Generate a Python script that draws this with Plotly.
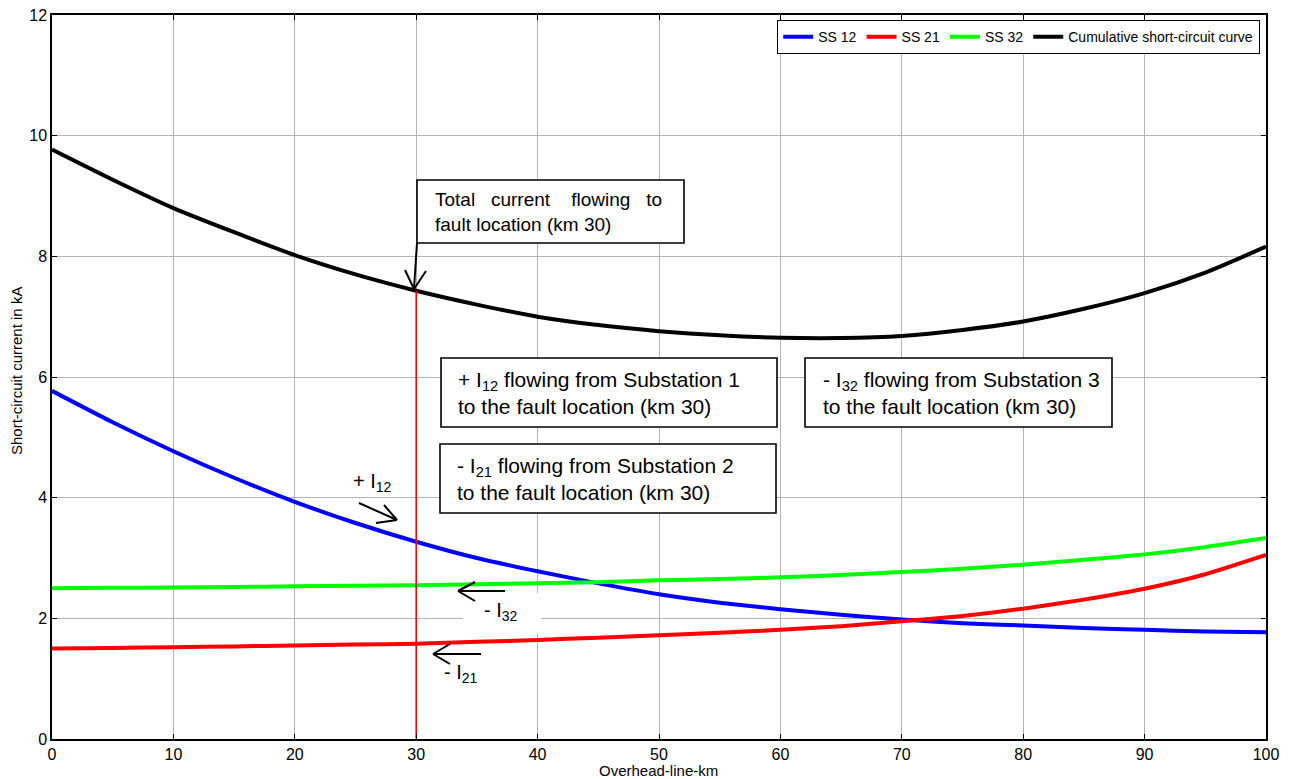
import plotly.graph_objects as go

# ---- data: short-circuit current along the overhead line ----
km = [0, 5, 10, 15, 20, 25, 30, 35, 40, 45, 50, 55, 60, 65, 70, 75, 80, 85, 90, 95, 100]

ss12 = [5.77, 5.25, 4.77, 4.33, 3.93, 3.58, 3.27, 3.00, 2.78, 2.58, 2.40, 2.26, 2.15,
        2.06, 1.98, 1.92, 1.88, 1.84, 1.81, 1.78, 1.77]
ss21 = [1.50, 1.51, 1.52, 1.535, 1.55, 1.565, 1.58, 1.61, 1.64, 1.68, 1.72, 1.76, 1.81,
        1.87, 1.95, 2.04, 2.16, 2.31, 2.49, 2.73, 3.05]
ss32 = [2.50, 2.505, 2.51, 2.52, 2.53, 2.54, 2.55, 2.565, 2.58, 2.60, 2.63, 2.65, 2.68,
        2.72, 2.77, 2.82, 2.89, 2.97, 3.06, 3.18, 3.33]
cumulative = [9.77, 9.27, 8.80, 8.40, 8.02, 7.70, 7.43, 7.20, 7.00, 6.86, 6.76, 6.69,
              6.65, 6.645, 6.68, 6.78, 6.92, 7.13, 7.39, 7.73, 8.16]

fault_km = 30
x_ticks = list(range(0, 101, 10))
y_ticks = list(range(0, 13, 2))

# ---- figure geometry (pixels) ----
FIG_W, FIG_H = 1294, 779
M_L, M_R, M_T, M_B = 52, 28, 15, 40
PW = FIG_W - M_L - M_R
PH = FIG_H - M_T - M_B
X_MAX, Y_MAX = 100, 12


def to_data(xp, yp):
    """Convert a pixel position on the page to axis units."""
    return (xp - M_L) / PW * X_MAX, (FIG_H - M_B - yp) / PH * Y_MAX


def to_paper(xp, yp):
    return (xp - M_L) / PW, (FIG_H - M_B - yp) / PH


FONT = "Liberation Sans, Arial, sans-serif"

fig = go.Figure()

series = [("SS 12", ss12, "#0000ff"), ("SS 21", ss21, "#ff0000"),
          ("SS 32", ss32, "#00ff00"), ("Cumulative short-circuit curve", cumulative, "#000000")]
for name, vals, col in series:
    fig.add_trace(go.Scatter(x=km, y=vals, name=name, mode="lines",
                             line=dict(color=col, width=4, shape="spline", smoothing=0.6)))

# vertical marker at the fault location, up to the cumulative curve
fault_level = cumulative[km.index(fault_km)]
fig.add_trace(go.Scatter(x=[fault_km, fault_km], y=[0, fault_level], mode="lines",
                         line=dict(color="#ff0000", width=1.6), showlegend=False,
                         hoverinfo="skip"))

shapes = []
annotations = []


def box(x0, y0, x1, y1):
    a, b = to_data(x0, y0)
    c, d = to_data(x1, y1)
    shapes.append(dict(type="rect", xref="x", yref="y", x0=a, y0=b, x1=c, y1=d,
                       line=dict(color="black", width=1.6), fillcolor="white", layer="above"))


def label(xp, yp, text, size, xanchor="left"):
    x, y = to_data(xp, yp)
    annotations.append(dict(x=x, y=y, xref="x", yref="y", text=text, showarrow=False,
                            xanchor=xanchor, yanchor="middle", align="left",
                            font=dict(family=FONT, size=size, color="black")))


def arrow(tx, ty, hx, hy, wing1, wing2):
    """Shaft from tail to head with an open V head (pixel coordinates)."""
    for (ax, ay), (bx, by) in [((tx, ty), (hx, hy)), (wing1, (hx, hy)), (wing2, (hx, hy))]:
        a, b = to_data(ax, ay)
        c, d = to_data(bx, by)
        shapes.append(dict(type="line", xref="x", yref="y", x0=a, y0=b, x1=c, y1=d,
                           line=dict(color="black", width=2), layer="above"))


# white patch behind the "- I32" label
pa, pb = to_data(463, 593)
pc, pd = to_data(541, 633)
shapes.append(dict(type="rect", xref="x", yref="y", x0=pa, y0=pb, x1=pc, y1=pd,
                   line=dict(width=0), fillcolor="white", layer="between"))

# text boxes
box(417, 180, 684, 243)
label(433, 212, "Total&nbsp;&nbsp;&nbsp;current&nbsp;&nbsp;&nbsp;&nbsp;flowing&nbsp;&nbsp;&nbsp;to<br>"
      "fault location (km 30)", 19)
box(441, 358, 777, 427)
label(456, 393, "+ I<sub>12</sub> flowing from Substation 1<br>to the fault location (km 30)", 21)
box(440, 444, 776, 513)
label(455, 479, "- I<sub>21</sub> flowing from Substation 2<br>to the fault location (km 30)", 21)
box(805, 358, 1112, 427)
label(821, 393, "- I<sub>32</sub> flowing from Substation 3<br>to the fault location (km 30)", 21)

# arrows and short labels
arrow(417, 243, 414, 289, (405, 270), (426, 271))
arrow(359, 503, 397, 520, (384, 505), (376, 523))
label(372, 482, "+ I<sub>12</sub>", 20, xanchor="center")
arrow(505, 591, 458, 591, (475, 582), (475, 601))
label(501, 611, "- I<sub>32</sub>", 20, xanchor="center")
arrow(481, 654, 433, 654, (450, 644), (450, 664))
label(461, 673, "- I<sub>21</sub>", 20, xanchor="center")

# axis titles
tx, ty = to_paper(658, 771)
annotations.append(dict(x=tx, y=ty, xref="paper", yref="paper", text="Overhead-line-km",
                        showarrow=False, xanchor="center", yanchor="middle",
                        font=dict(family=FONT, size=15, color="black")))
tx, ty = to_paper(16, 371)
annotations.append(dict(x=tx, y=ty, xref="paper", yref="paper",
                        text="Short-circuit current in kA", textangle=-90,
                        showarrow=False, xanchor="center", yanchor="middle",
                        font=dict(family=FONT, size=15, color="black")))

axis_common = dict(showline=True, linecolor="black", linewidth=1.5, mirror="ticks",
                   ticks="inside", ticklen=5, tickcolor="black", tickwidth=1,
                   showgrid=True, gridcolor="#b4b4b4", gridwidth=1, zeroline=False,
                   automargin=False,
                   tickfont=dict(family=FONT, size=16, color="black"))

lx, ly = to_paper(1260, 20)
fig.update_layout(
    width=FIG_W, height=FIG_H,
    margin=dict(l=M_L, r=M_R, t=M_T, b=M_B),
    paper_bgcolor="white", plot_bgcolor="white",
    font=dict(family=FONT, color="black"),
    xaxis=dict(range=[0, X_MAX], tickvals=x_ticks, **axis_common),
    yaxis=dict(range=[0, Y_MAX], tickvals=y_ticks, **axis_common),
    legend=dict(orientation="h", x=lx, y=ly, xanchor="right", yanchor="top",
                bgcolor="white", bordercolor="black", borderwidth=1.2,
                font=dict(family=FONT, size=14, color="black"),
                itemwidth=30, tracegroupgap=0),
    shapes=shapes,
    annotations=annotations,
)

fig.write_html("out.html")
